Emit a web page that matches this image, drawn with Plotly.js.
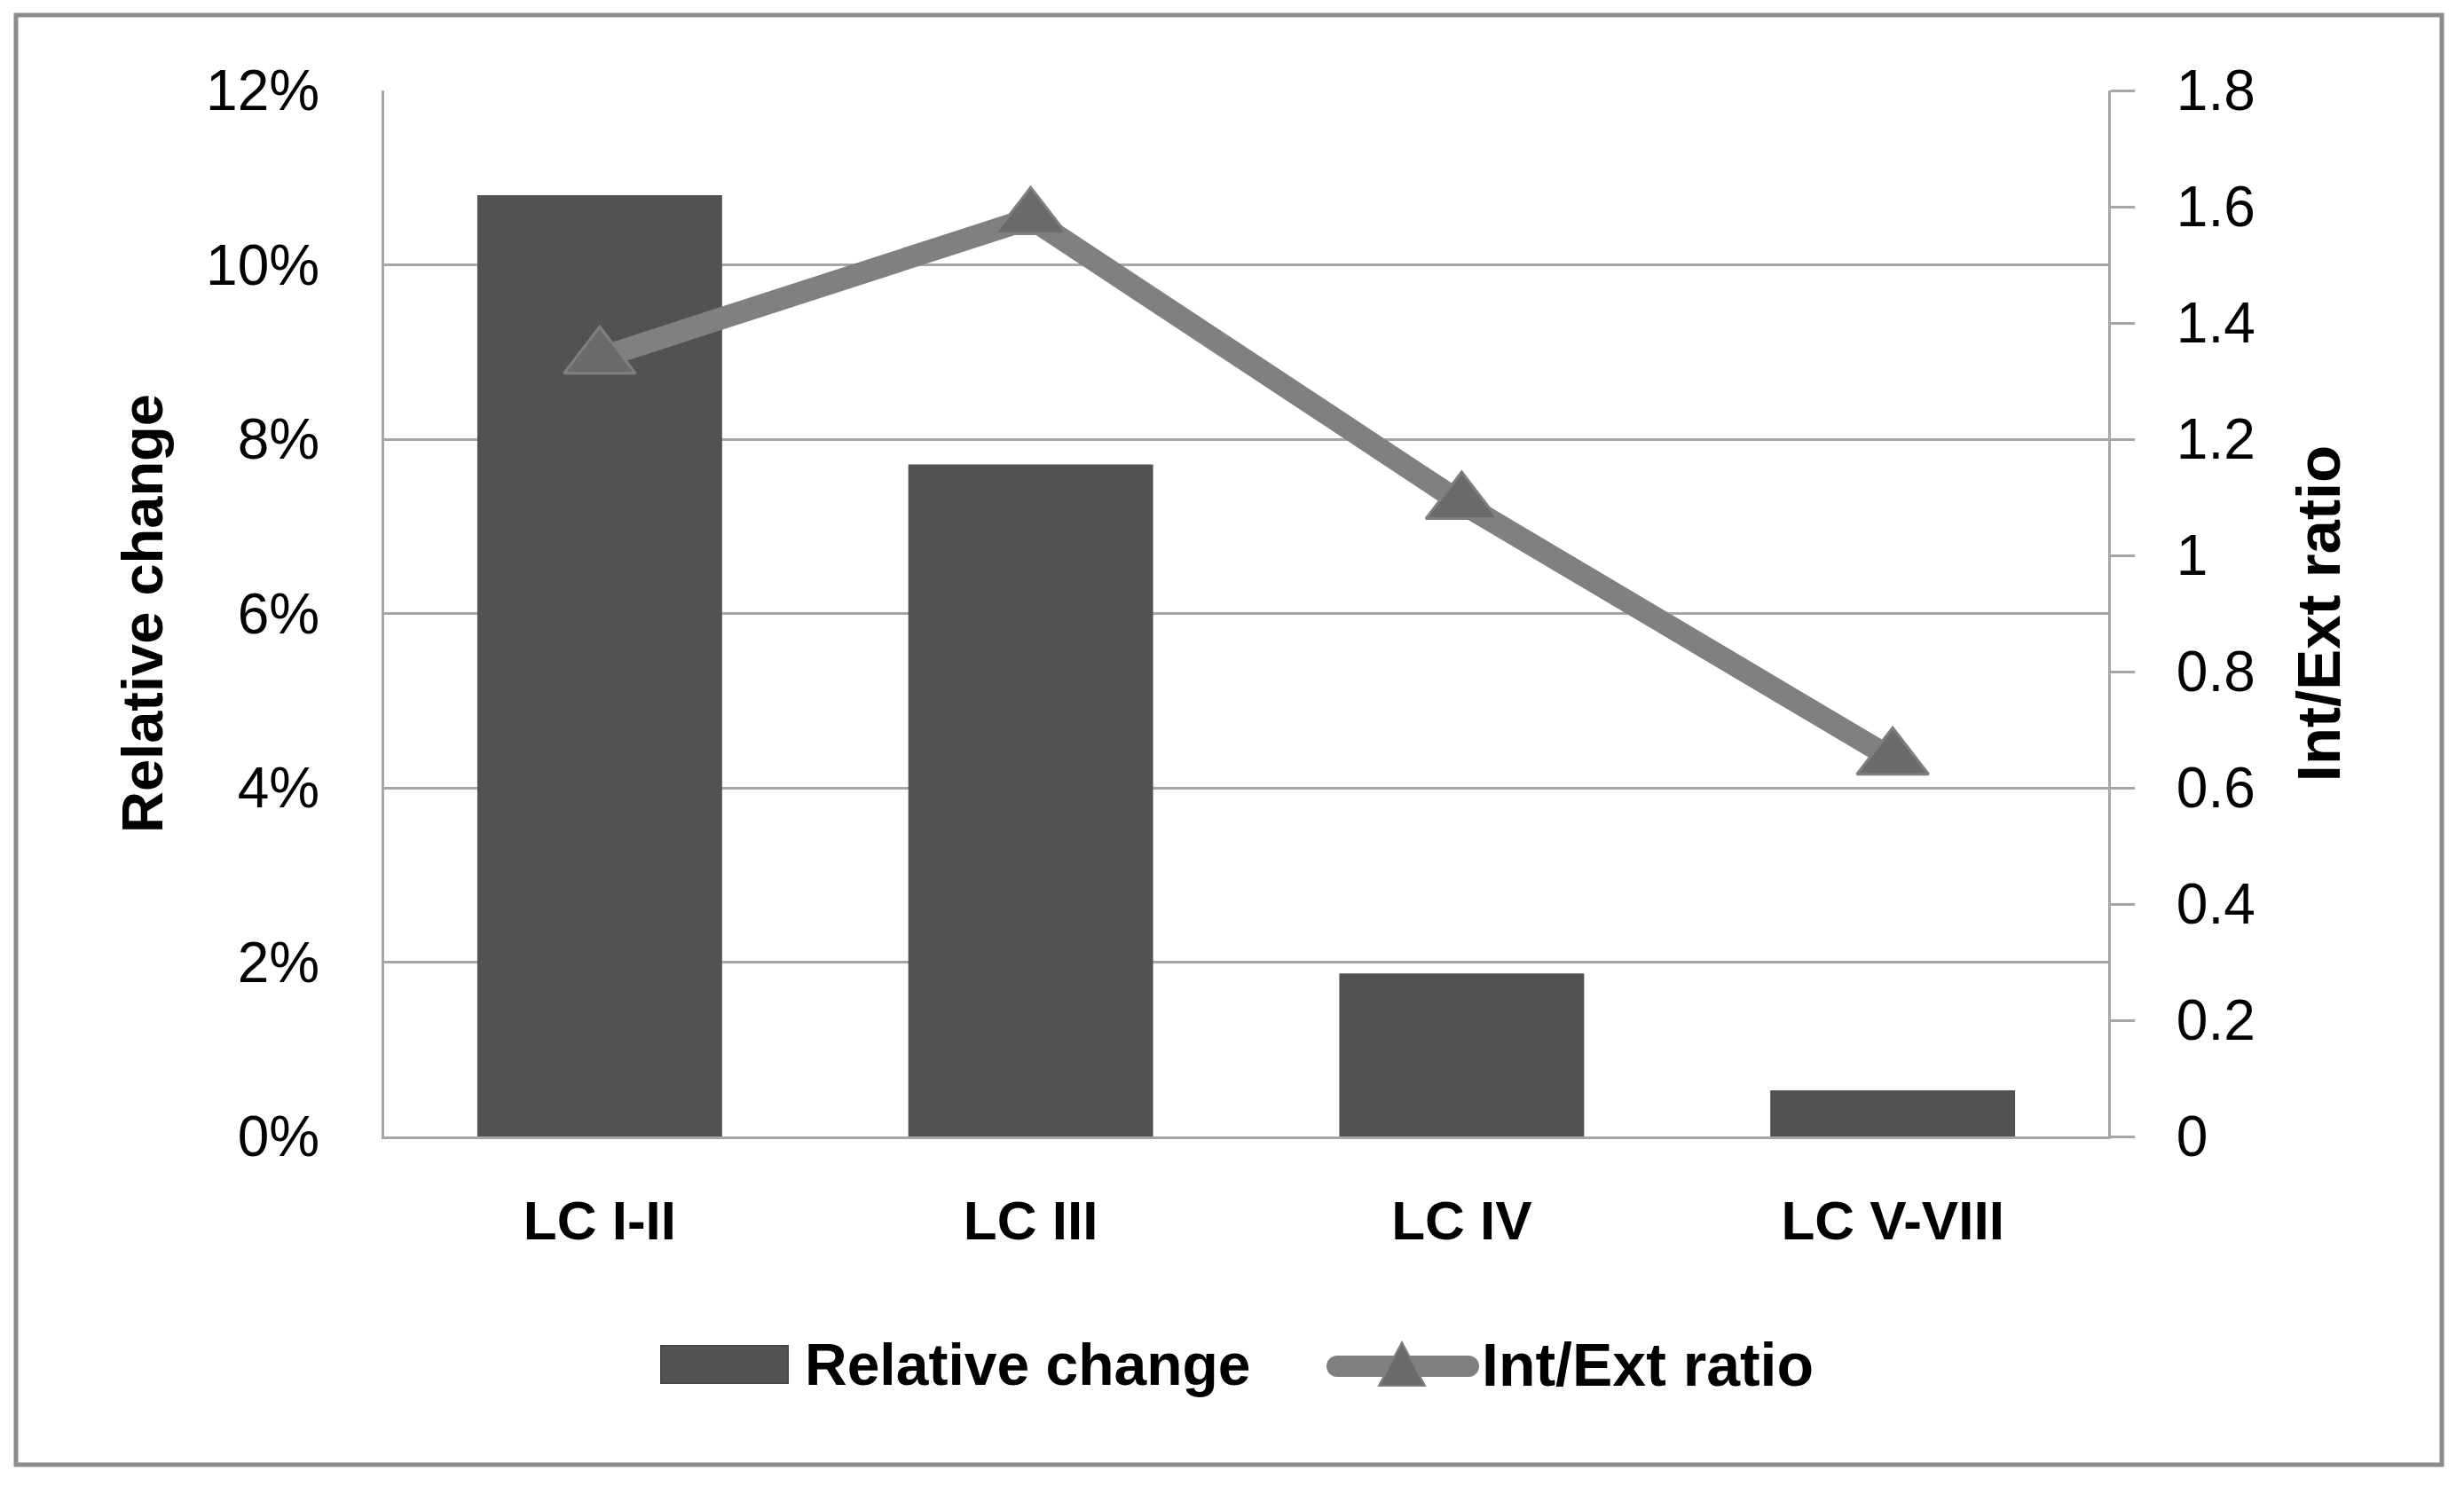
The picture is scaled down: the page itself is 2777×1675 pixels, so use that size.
<!DOCTYPE html>
<html>
<head>
<meta charset="utf-8">
<script src="https://cdn.plot.ly/plotly-3.0.1.min.js"></script>
<style>
  html, body { margin: 0; padding: 0; background: #ffffff; }
  #chart { width: 2777px; height: 1675px; }
</style>
</head>
<body>
<div id="chart"></div>
<script>
// ---- data ----
const categories = ['LC I-II', 'LC III', 'LC IV', 'LC V-VIII'];
const relativeChange = [0.108, 0.0771, 0.0187, 0.0053];
const intExtRatio = [1.34, 1.58, 1.09, 0.65];
const seriesNames = ['Relative change', 'Int/Ext ratio'];
const leftTitle = 'Relative change';
const rightTitle = 'Int/Ext ratio';

// ---- geometry helpers (layout only) ----
const W = 2777, H = 1675;
const M = { l: 433, r: 401, t: 102, b: 394 };
const PW = W - M.l - M.r, PH = H - M.t - M.b;
const px = v => (v - M.l) / PW;          // pixel x -> paper x
const py = v => (H - M.b - v) / PH;      // pixel y -> paper y

const FONT = 'Liberation Sans, Arial, sans-serif';
const GRID = '#a6a6a6';

const bars = {
  type: 'bar',
  name: seriesNames[0],
  x: categories,
  y: relativeChange,
  yaxis: 'y',
  marker: { color: '#525252', line: { width: 0 } },
  showlegend: false,
  hoverinfo: 'x+y'
};

const line = {
  type: 'scatter',
  mode: 'lines+markers',
  name: seriesNames[1],
  x: categories,
  y: intExtRatio,
  yaxis: 'y2',
  line: { color: '#808080', width: 25 },
  marker: { symbol: 'triangle-up', size: 70, color: '#6b6b6b', line: { color: '#7f7f7f', width: 3 } },
  showlegend: false
};

const shapes = [
  // outer chart border
  { type: 'rect', xref: 'paper', yref: 'paper', x0: px(18), x1: px(2752), y0: py(1651), y1: py(17),
    line: { color: '#8c8c8c', width: 5 }, fillcolor: 'rgba(0,0,0,0)', layer: 'below' },
  // legend: bar swatch
  { type: 'rect', xref: 'paper', yref: 'paper', x0: px(745), x1: px(888), y0: py(1559), y1: py(1517),
    line: { color: '#484848', width: 2 }, fillcolor: '#545454' },
  // legend: line swatch
  { type: 'line', xref: 'paper', yref: 'paper', x0: px(1507), x1: px(1655), y0: py(1540), y1: py(1540),
    line: { color: '#808080', width: 24 } },
  { type: 'circle', xref: 'paper', yref: 'paper', x0: px(1495), x1: px(1519), y0: py(1552), y1: py(1528),
    line: { width: 0 }, fillcolor: '#808080' },
  { type: 'circle', xref: 'paper', yref: 'paper', x0: px(1643), x1: px(1667), y0: py(1552), y1: py(1528),
    line: { width: 0 }, fillcolor: '#808080' },
  { type: 'path', xref: 'paper', yref: 'paper',
    path: 'M ' + px(1554) + ' ' + py(1562) + ' L ' + px(1580) + ' ' + py(1513) + ' L ' + px(1606) + ' ' + py(1562) + ' Z',
    line: { color: '#7f7f7f', width: 2 }, fillcolor: '#6b6b6b' }
];

const annotations = [
  { xref: 'paper', yref: 'paper', x: px(905), y: py(1538), xanchor: 'left', yanchor: 'middle',
    text: seriesNames[0], showarrow: false, font: { family: FONT, size: 66, color: '#000', weight: 'bold' } },
  { xref: 'paper', yref: 'paper', x: px(1668), y: py(1538), xanchor: 'left', yanchor: 'middle',
    text: seriesNames[1], showarrow: false, font: { family: FONT, size: 68, color: '#000', weight: 'bold' } }
];

const layout = {
  width: W, height: H,
  margin: M,
  paper_bgcolor: '#ffffff',
  plot_bgcolor: '#ffffff',
  font: { family: FONT, color: '#000000' },
  bargap: 0.432,
  xaxis: {
    type: 'category',
    showline: true, linecolor: GRID, linewidth: 3,
    ticks: '', showgrid: false,
    tickfont: { family: FONT, size: 62, color: '#000', weight: 'bold' },
    ticklabelstandoff: 39
  },
  yaxis: {
    range: [0, 0.12], dtick: 0.02, tickformat: '.0%',
    showline: true, linecolor: GRID, linewidth: 3,
    showgrid: true, gridcolor: GRID, gridwidth: 3,
    zeroline: false, ticks: '',
    tickfont: { family: FONT, size: 64, color: '#000' },
    ticklabelstandoff: 57,
    title: { text: leftTitle, standoff: 28, font: { family: FONT, size: 65, color: '#000', weight: 'bold' } }
  },
  yaxis2: {
    overlaying: 'y', side: 'right',
    range: [0, 1.8], dtick: 0.2,
    showline: true, linecolor: GRID, linewidth: 3,
    showgrid: false, zeroline: false,
    ticks: 'outside', ticklen: 27, tickwidth: 3, tickcolor: GRID,
    tickfont: { family: FONT, size: 64, color: '#000' },
    ticklabelstandoff: 34,
    title: { text: rightTitle, standoff: 48, font: { family: FONT, size: 69, color: '#000', weight: 'bold' } }
  },
  shapes: shapes,
  annotations: annotations,
  showlegend: false
};

Plotly.newPlot('chart', [bars, line], layout, { displayModeBar: false, responsive: false });
</script>
</body>
</html>
